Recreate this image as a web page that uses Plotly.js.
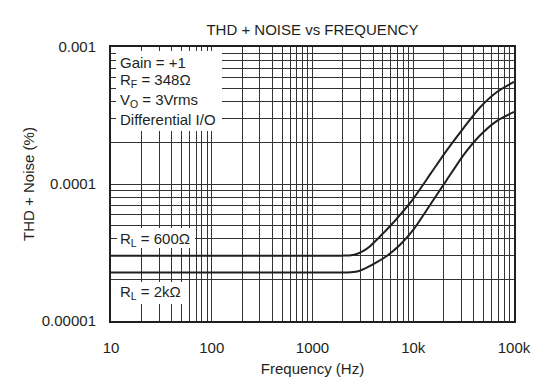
<!DOCTYPE html>
<html>
<head>
<meta charset="utf-8">
<script src="https://cdn.plot.ly/plotly-3.0.1.min.js"></script>
<style>
html,body{margin:0;padding:0;background:#fff;}
#chart{width:558px;height:390px;}
</style>
</head>
<body>
<div id="chart"></div>
<script>
// ---- data ----
const freq600 = [10, 100, 1000, 2000, 2300, 2700, 3200, 3700, 4700, 6000, 7400, 10000, 15000, 21500, 31400, 45900, 67200, 100000];
const thd600  = [3.0e-5, 3.0e-5, 3.0e-5, 3.0e-5, 3.01e-5, 3.07e-5, 3.25e-5, 3.5e-5, 4.15e-5, 5.0e-5, 5.95e-5, 7.8e-5, 1.2e-4, 1.76e-4, 2.55e-4, 3.62e-4, 4.68e-4, 5.56e-4];
const freq2k  = [10, 100, 1000, 2000, 2400, 2900, 3450, 4400, 5460, 7400, 10000, 15000, 21500, 31400, 45900, 67200, 100000];
const thd2k   = [2.26e-5, 2.26e-5, 2.26e-5, 2.26e-5, 2.27e-5, 2.32e-5, 2.45e-5, 2.7e-5, 2.98e-5, 3.6e-5, 4.62e-5, 7.2e-5, 1.07e-4, 1.62e-4, 2.26e-4, 2.88e-4, 3.36e-4];

const xTickVals = [10, 100, 1000, 10000, 100000];
const xTickText = ['10', '100', '1000', '10k', '100k'];
const yTickVals = [1e-5, 1e-4, 1e-3];
const yTickText = ['0.00001', '0.0001', '0.001'];

const labelsTop = ['Gain = +1', 'R<sub>F</sub> = 348Ω', 'V<sub>O</sub> = 3Vrms', 'Differential I/O'];
const label600 = 'R<sub>L</sub> = 600Ω';
const label2k = 'R<sub>L</sub> = 2kΩ';

// ---- minor log grid positions (2..9 in each decade) ----
function minorVals(decades) {
  const v = [];
  for (let i = 0; i < decades.length - 1; i++)
    for (let m = 2; m <= 9; m++) v.push(m * decades[i]);
  return v;
}

const FONT = 'Liberation Sans, Arial, Helvetica, sans-serif';
const TXT = '#231f20';
const GRID = '#333333';

const traces = [
  {x: freq600, y: thd600, mode: 'lines', line: {color: '#231f20', width: 2, shape: 'spline', smoothing: 0.6}, hoverinfo: 'skip', showlegend: false},
  {x: freq2k, y: thd2k, mode: 'lines', line: {color: '#231f20', width: 2, shape: 'spline', smoothing: 0.6}, hoverinfo: 'skip', showlegend: false}
];

function px2x(px) { return (px - 111) / 403; }
function py2y(py) { return (321 - py) / 274; }

const boxes = [
  [116, 51, 222, 131],
  [117, 228, 195, 248],
  [117, 282, 186, 304]
];
const shapes = boxes.map(b => ({
  type: 'rect', xref: 'paper', yref: 'paper', layer: 'above',
  x0: px2x(b[0]), x1: px2x(b[2]), y0: py2y(b[3]), y1: py2y(b[1]),
  fillcolor: '#ffffff', line: {width: 0}
}));

const topY = [62, 81, 100, 119.5];
const annotations = labelsTop.map((t, i) => ({
  text: t, xref: 'paper', yref: 'paper', x: px2x(118), y: py2y(topY[i]),
  xanchor: 'left', yanchor: 'middle', showarrow: false,
  font: {family: FONT, size: 15, color: TXT}
}));
annotations.push({text: label600, xref: 'paper', yref: 'paper', x: px2x(118), y: py2y(239),
  xanchor: 'left', yanchor: 'middle', showarrow: false, font: {family: FONT, size: 15, color: TXT}});
annotations.push({text: label2k, xref: 'paper', yref: 'paper', x: px2x(118), y: py2y(292.5),
  xanchor: 'left', yanchor: 'middle', showarrow: false, font: {family: FONT, size: 15, color: TXT}});

const layout = {
  width: 558, height: 390,
  margin: {l: 111, r: 44, t: 47, b: 69},
  paper_bgcolor: '#ffffff', plot_bgcolor: '#ffffff',
  font: {family: FONT, size: 15, color: TXT},
  title: {text: 'THD + NOISE vs FREQUENCY', font: {family: FONT, size: 15, color: TXT},
          xref: 'paper', x: 0.5, xanchor: 'center', yref: 'container', y: 1 - 30/390, yanchor: 'middle'},
  xaxis: {
    type: 'log', range: [1, 5], tickmode: 'array', tickvals: xTickVals, ticktext: xTickText,
    showgrid: true, gridcolor: GRID, gridwidth: 1,
    minor: {tickmode: 'array', tickvals: minorVals(xTickVals), showgrid: true, gridcolor: GRID, gridwidth: 1, ticks: ''},
    ticks: 'outside', ticklen: 12, tickcolor: 'rgba(0,0,0,0)',
    showline: true, linecolor: '#231f20', linewidth: 2, mirror: true, zeroline: false,
    tickfont: {family: FONT, size: 15, color: TXT},
    title: {text: 'Frequency (Hz)', font: {family: FONT, size: 15, color: TXT}, standoff: 8},
    fixedrange: true
  },
  yaxis: {
    type: 'log', range: [-5, -3], tickmode: 'array', tickvals: yTickVals, ticktext: yTickText,
    showgrid: true, gridcolor: GRID, gridwidth: 1,
    minor: {tickmode: 'array', tickvals: minorVals(yTickVals), showgrid: true, gridcolor: GRID, gridwidth: 1, ticks: ''},
    ticks: 'outside', ticklen: 10, tickcolor: 'rgba(0,0,0,0)',
    showline: true, linecolor: '#231f20', linewidth: 2, mirror: true, zeroline: false,
    tickfont: {family: FONT, size: 15, color: TXT},
    title: {text: 'THD + Noise (%)', font: {family: FONT, size: 15, color: TXT}, standoff: 4},
    fixedrange: true
  },
  shapes: shapes,
  annotations: annotations
};

Plotly.newPlot('chart', traces, layout, {staticPlot: true, displayModeBar: false});
</script>
</body>
</html>
